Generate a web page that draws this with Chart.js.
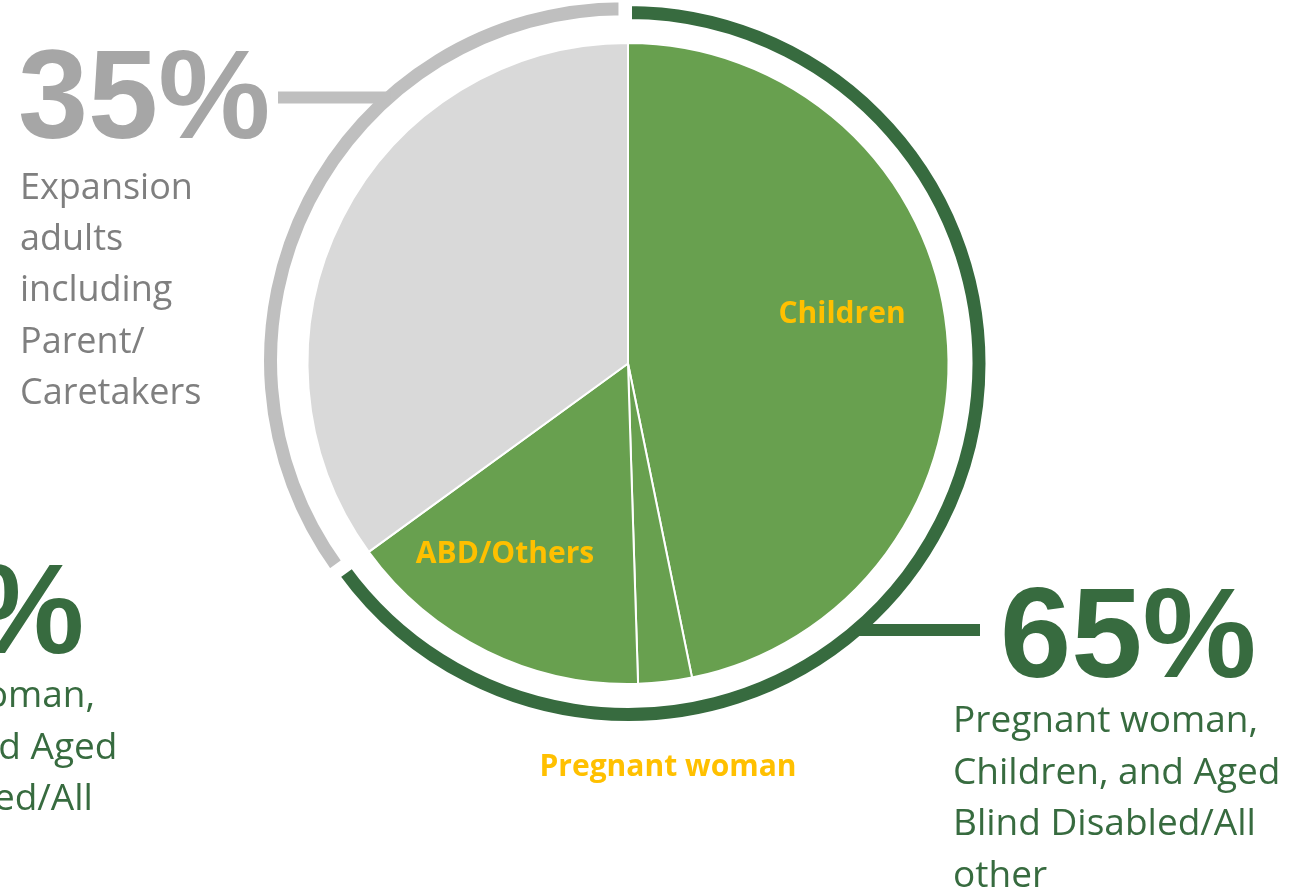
<!DOCTYPE html>
<html>
<head>
<meta charset="utf-8">
<script src="https://cdn.jsdelivr.net/npm/chart.js@4.4.1/dist/chart.umd.min.js"></script>
<style>
  html, body { margin: 0; padding: 0; background: #ffffff; overflow: hidden; }
  #wrap { position: relative; width: 1304px; height: 890px; }
</style>
</head>
<body>
<div id="wrap"><canvas id="chart" width="1304" height="890"></canvas></div>
<script>
// Enrollment segments (share of total, %)
const segmentLabels = ['Children', 'Pregnant woman', 'ABD/Others', 'Expansion adults'];
const segmentValues = [46.8, 2.7, 15.5, 35];

// Grouped totals shown on the outer ring (%)
const groupLabels = ['Pregnant woman, Children, and Aged Blind Disabled/All other',
                     'Expansion adults including Parent/Caretakers'];
const groupValues = [65, 35];

// Callout text blocks
const groupHeadline = ['65%', '35%'];
const greenLines = ['Pregnant woman,', 'Children, and Aged', 'Blind Disabled/All', 'other'];
const greyLines = ['Expansion', 'adults', 'including', 'Parent/', 'Caretakers'];

const DARK_GREEN = '#376B3F';
const LEAF_GREEN = '#68A04F';
const RING_GREY = '#BFBFBF';
const SLICE_GREY = '#D9D9D9';
const LABEL_GOLD = '#FFC000';

const calloutPlugin = {
  id: 'callouts',
  afterDraw(chart) {
    const ctx = chart.ctx;
    const ring = chart.getDatasetMeta(0).data[0];
    const cx = ring.x, cy = ring.y;
    const rMid = (ring.outerRadius + ring.innerRadius) / 2;
    const ringX = (y, side) => cx + side * Math.sqrt(rMid * rMid - (y - cy) * (y - cy));

    ctx.save();
    ctx.textBaseline = 'alphabetic';

    // leader lines from the ring to the headline figures
    ctx.lineCap = 'butt';
    ctx.lineWidth = 12;
    ctx.strokeStyle = RING_GREY;
    ctx.beginPath();
    ctx.moveTo(278, 97.5);
    ctx.lineTo(ringX(97.5, -1) - 8, 97.5);
    ctx.stroke();

    ctx.strokeStyle = DARK_GREEN;
    ctx.beginPath();
    ctx.moveTo(ringX(630, 1) - 2, 630);
    ctx.lineTo(980, 630);
    ctx.stroke();

    // headline percentages
    ctx.textAlign = 'left';
    ctx.font = 'bold 126px "Liberation Sans", Arial, sans-serif';
    ctx.fillStyle = '#A6A6A6';
    ctx.fillText(groupHeadline[1], 18, 138);

    ctx.fillStyle = DARK_GREEN;
    ctx.font = 'bold 128px "Liberation Sans", Arial, sans-serif';
    ctx.fillText(groupHeadline[0], 1000, 677);
    ctx.fillText(groupHeadline[0], 1000 - 1172, 677 - 24);

    // descriptive text
    ctx.font = '36px "Open Sans", sans-serif';
    ctx.fillStyle = '#7F7F7F';
    greyLines.forEach((t, i) => ctx.fillText(t, 20, 199 + i * 51.2));

    ctx.font = '37px "Open Sans", sans-serif';
    ctx.fillStyle = DARK_GREEN;
    greenLines.forEach((t, i) => {
      ctx.fillText(t, 953, 732 + i * 51.5);
      ctx.fillText(t, 953 - 1163, 732 - 25 + i * 51.5);
    });

    // segment names
    ctx.font = 'bold 30px "Open Sans", sans-serif';
    ctx.fillStyle = LABEL_GOLD;
    ctx.textAlign = 'center';
    ctx.fillText(segmentLabels[0], 842, 323);
    ctx.fillText(segmentLabels[2], 505, 563);
    ctx.fillText(segmentLabels[1], 668, 776);
    ctx.restore();
  }
};

new Chart(document.getElementById('chart'), {
  type: 'doughnut',
  data: {
    labels: segmentLabels,
    datasets: [
      {
        // outer ring: grouped totals
        data: groupValues,
        backgroundColor: [DARK_GREEN, RING_GREY],
        borderColor: '#ffffff',
        borderWidth: 8,
        offset: [0, 24],
        weight: 21
      },
      {
        // blank band between ring and pie
        data: [1],
        backgroundColor: 'rgba(0,0,0,0)',
        borderWidth: 0,
        weight: 20
      },
      {
        // pie of individual segments
        data: segmentValues,
        backgroundColor: [LEAF_GREEN, LEAF_GREEN, LEAF_GREEN, SLICE_GREY],
        borderColor: '#ffffff',
        borderWidth: 2,
        weight: 320.5
      }
    ]
  },
  options: {
    responsive: false,
    animation: false,
    events: [],
    cutout: 0,
    radius: 361.5,
    rotation: 0,
    layout: { padding: { left: 0, right: 48, top: 0, bottom: 163 } },
    plugins: {
      legend: { display: false },
      tooltip: { enabled: false }
    }
  },
  plugins: [calloutPlugin]
});
</script>
</body>
</html>
